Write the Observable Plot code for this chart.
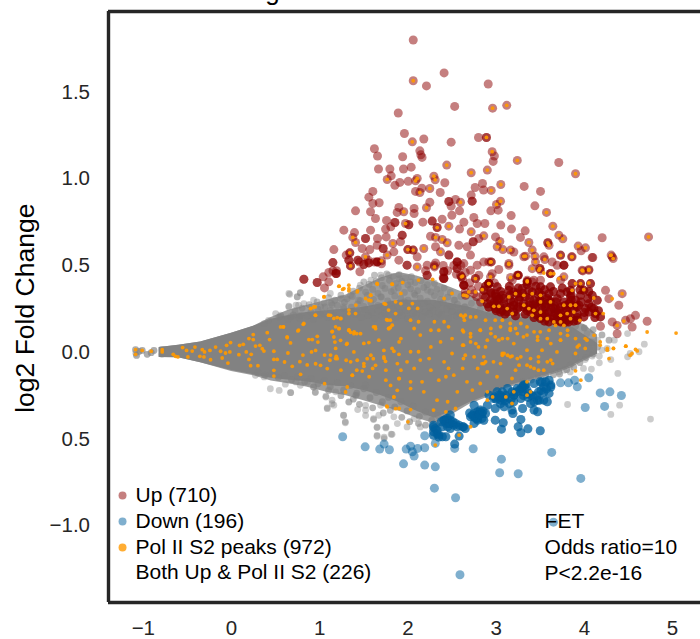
<!DOCTYPE html>
<html><head><meta charset="utf-8">
<style>html,body{margin:0;padding:0;background:#fff;overflow:hidden}</style>
<script src="https://cdn.jsdelivr.net/npm/d3@7"></script>
<script src="https://cdn.jsdelivr.net/npm/@observablehq/plot@0.6"></script>
</head><body><div id="chart"></div>
<script>
const xTicks=[-1,0,1,2,3,4,5];
const xTickLabels=["−1","0","1","2","3","4","5"];
const yTicks=[1.5,1,0.5,0,-0.5,-1];
const yTickLabels=["1.5","1.0","0.5","0.0","0.5","−1.0"];
const legendLabels=["Up (710)","Down (196)","Pol II S2 peaks (972)","Both Up & Pol II S2 (226)"];
const noteLabels=["FET","Odds ratio=10","P<2.2e-16"];
// gray cloud envelope
const cloudX=[-.82,-.6,-.35,0,.25,.45,.63,.85,1.08,1.3,1.5,1.7,1.9,2.1,2.3,2.5,2.7,2.9,3.1,3.3,3.5,3.7,3.85,4.0,4.15];
const outerHi=[.027,.04,.06,.11,.15,.2,.24,.27,.3,.33,.38,.43,.46,.44,.41,.37,.33,.28,.24,.22,.2,.19,.18,.16,.1];
const outerLo=[-.03,-.032,-.06,-.11,-.135,-.165,-.18,-.2,-.23,-.25,-.28,-.31,-.34,-.38,-.41,-.36,-.30,-.26,-.21,-.18,-.15,-.12,-.09,-.05,-.01];
const coreHi=[.027,.04,.06,.11,.15,.19,.21,.23,.24,.25,.26,.28,.3,.3,.3,.28,.26,.23,.2,.2,.2,.18,.15,.1,.05];
const coreLo=[-.03,-.032,-.06,-.105,-.13,-.15,-.16,-.17,-.19,-.2,-.22,-.25,-.29,-.34,-.38,-.34,-.29,-.25,-.2,-.17,-.14,-.11,-.08,-.04,-.01];
const grayPoints=[[-1.088,.015],[-1.077,-.018],[-1.05,.005],[-1.013,.011],[-.956,-.012],[-.911,-.002],[-.88,.011],[-1.088,.015],[-1.077,-.018],[-1.05,.005],[-1.013,.011],[-.956,-.012],[-.911,-.002],[-.88,.011],[-1.085,-.005],[-.79,.015],[-.79,-.012],
[.65,.339],[.78,.343],[.745,.32],[.65,.266],[.73,.272],[.82,.281],[.93,.301],[1.05,.285],[1.12,.339],[1.24,.31],[1.35,.329],[1.46,.387],[1.58,.416],[1.69,.445],[1.78,.445],[1.90,.425],[2.03,.406],[1.01,.262],[1.14,.272],[1.27,.262],[1.44,.301],[1.69,.32],[1.84,.358],[2.07,.339],[2.22,.358],[2.37,.339],[2.52,.301],[2.65,.262],[.78,.214],[.67,.205],[.556,.214],
[.66,.334],[.78,.342],[.745,.319],[.65,.261],[.76,.271],[.50,.223],[.54,.203],[.37,.165],[.42,.184],
[.44,-.21],[.54,-.22],[.67,-.233],[.37,-.142],[.27,-.133],[.93,-.20],[.95,-.229],[1.07,-.258],[1.085,-.325],[1.14,-.296],[1.27,-.364],[1.29,-.406],[1.33,-.287],[1.41,-.248],[1.52,-.306],[1.52,-.364],[1.61,-.383],[1.65,-.431],[1.75,-.431],[1.65,-.479],[1.73,-.489],[1.82,-.473],
[.61,-.184],[.67,-.232],[.73,-.171],[.78,-.19],[.86,-.171],[.93,-.20],[.95,-.232],[1.07,-.253],[1.14,-.276],[1.085,-.32],[1.16,-.305],[1.18,-.228],[1.33,-.286],[1.41,-.248],[1.43,-.33],[1.52,-.334],[1.52,-.19],[1.61,-.388],[1.67,-.363],[1.27,-.363],[1.29,-.401],[1.65,-.434],[1.75,-.436],[1.81,-.472],[1.73,-.497],[1.65,-.484],[1.99,-.43],[2.14,-.43],[1.88,-.411],[1.69,-.305],[1.84,-.372],[2.07,-.382],
[3.81,-.301],[4.40,-.305],[4.30,-.358],[4.75,-.385],[4.38,-.122],[4.30,-.042],[4.49,-.026],[4.62,.003],[4.68,.047],[4.17,-.061],[4.09,-.022],[4.01,-.042],[3.99,-.093],[4.08,-.097],[4.17,-.022],[3.90,-.026],[3.84,-.074],[3.77,-.103],[3.71,-.113],[3.84,-.113],[4.34,.07],[4.49,.108],[4.26,.022],[4.03,.108],[4.15,.07],[3.96,.051],[4.05,.022],[4.20,.012],[4.52,-.007]];
const grayUpper=[[1.62,.445],[1.7,.43],[1.76,.452],[1.83,.438],[1.9,.447],[1.97,.428],[2.04,.436],
[1.5,.405],[1.56,.392],[1.64,.41],[1.71,.385],[1.79,.415],[1.86,.397],[1.93,.408],[2.0,.388],[2.08,.402],[2.15,.413],[2.22,.39],[2.3,.398],
[1.38,.352],[1.45,.37],[1.52,.347],[1.6,.362],[1.66,.34],[1.74,.368],[1.81,.35],[1.89,.372],[1.96,.345],[2.03,.366],[2.11,.355],[2.18,.374],[2.26,.348],[2.33,.363],[2.41,.37],[2.48,.345],
[1.1,.315],[1.17,.3],[1.24,.33],[1.31,.308],[1.37,.322],[1.46,.298],[1.54,.328],[1.61,.305],[1.7,.318],[1.77,.296],[1.85,.325],[1.92,.31],[2.0,.3],[2.08,.33],[2.14,.312],[2.22,.295],[2.3,.327],[2.37,.305],[2.45,.318],[2.53,.3],[2.6,.322],
[.88,.275],[.97,.29],[1.06,.262],[1.13,.282],[1.2,.27],[1.28,.288],[1.36,.26],[1.43,.278],[1.5,.265],[1.58,.285],[1.66,.27],[1.73,.258],[1.8,.28],[1.88,.268],[1.96,.29],[2.03,.262],[2.1,.275],[2.18,.283],[2.25,.26],[2.33,.272],[2.4,.286],[2.48,.265],[2.56,.278],[2.64,.262],[2.72,.282],
[.72,.24],[.8,.255],[.9,.232],[.98,.248],[1.04,.226],[1.12,.242],[1.19,.23],[1.27,.252],[1.35,.235],[1.42,.228],[1.51,.246],[1.59,.232],[1.66,.238],[1.74,.225],[1.83,.25],[1.9,.23],[1.98,.242],[2.06,.226],[2.13,.248],[2.2,.233],[2.28,.24],[2.35,.228],[2.44,.25],[2.5,.235],[2.58,.226],[2.66,.245],[2.74,.23],[2.82,.248],
[.56,.205],[.64,.19],[.7,.215],[.77,.198],[.86,.21],[.93,.192],[1.01,.216],[1.09,.2],[1.16,.212],[1.24,.195],[1.31,.208],[1.4,.218],[1.47,.2],[1.55,.212],[1.62,.196],[1.7,.21],[1.78,.218],[1.86,.2],[1.93,.212],[2.0,.195],[2.09,.215],[2.16,.205],[2.24,.22],[2.31,.2],[2.38,.215],[2.46,.195],[2.55,.21],[2.62,.22],[2.7,.2],[2.78,.215],[2.86,.205],[2.93,.22]];
const grayLower=[[.3,-.118],[.38,-.13],[.46,-.122],[.53,-.145],[.6,-.135],[.68,-.158],[.75,-.142],[.83,-.17],[.9,-.15],[.98,-.182],[1.05,-.165],[1.12,-.198],[1.2,-.175],[1.27,-.218],[1.35,-.192],[1.42,-.235],[1.5,-.21],[1.57,-.262],[1.64,-.232],[1.71,-.285],[1.78,-.26],[1.85,-.315],[1.92,-.285],[1.99,-.338],[2.06,-.31],[2.13,-.37],[2.2,-.345],[2.27,-.392],[2.34,-.365],[1.1,-.22],[1.24,-.25],[1.38,-.27],[1.45,-.3],[1.6,-.32],[1.72,-.35],[1.8,-.335],[1.93,-.375],[2.02,-.4],[2.12,-.41],[2.2,-.42],[2.28,-.44],[2.35,-.405],[2.42,-.39],
[3.3,-.17],[3.4,-.16],[3.48,-.145],[3.56,-.135],[3.65,-.13],[3.72,-.125],[3.8,-.1],[3.88,-.085],[3.95,-.06],[4.02,-.03],[4.1,-.01],[4.15,.03],[4.08,.06],[4.0,.14],[3.9,.15],[3.82,.13],[4.1,.13],[4.2,.1],[4.28,.07]];
const upPoints=[[2.06,1.80],[2.41,1.61],[2.06,1.565],[2.21,1.535],[2.91,1.546],[2.53,1.417],[2.96,1.407],[3.12,1.423],[1.89,1.379],[1.96,1.261],[2.05,1.213],[2.18,1.229],[2.49,1.211],[2.80,1.238],[2.89,1.238],[2.89,1.238],[1.62,1.173],[1.655,1.131],[1.94,1.127],[2.135,1.161],[2.146,1.138],[2.16,1.123],[2.955,1.156],[2.98,1.131],[2.966,1.10],[3.24,1.106],[3.71,1.094],[3.90,1.029],[2.44,1.079],[1.666,1.056],[1.795,1.056],[1.95,1.056],[2.037,1.067],[2.90,1.05],[2.717,1.035],[1.81,1.017],[1.765,.996],[2.105,1.002],[2.086,.988],[2.294,1.015],[2.309,.994],[2.418,.977],[1.908,.979],[1.852,.962],[2.003,.985],[3.053,.967],[2.845,.973],[2.762,.95],[2.857,.935],[2.944,.933],[3.318,.956],[3.503,.927],[2.248,.944],[2.158,.946],[2.086,.927],[2.135,.921],[2.366,.921],[1.602,.927],[1.557,.894],[2.717,.906],[2.539,.881],[2.464,.869],[2.464,.869],[2.596,.865],[2.728,.871],[2.728,.871],[3.05,.871],[3.004,.852],[1.602,.858],[1.674,.862],[2.248,.865],[2.49,.842],[3.439,.844],[1.406,.815],[1.576,.81],[1.897,.835],[1.878,.806],[1.953,.81],[2.07,.829],[2.07,.80],[2.21,.833],[2.585,.815],[2.94,.815],[3.023,.819],[3.571,.806],[3.17,.788],[2.498,.79],[2.388,.767],[1.632,.771],[1.757,.76],[1.852,.748],[1.852,.748],[2.169,.75],[2.275,.756],[2.275,.756],[1.972,.742],[2.01,.735],[2.01,.735],[2.464,.727],[2.634,.75],[2.747,.777],[2.785,.742],[2.872,.742],[3.053,.733],[3.643,.727],[1.273,.704],[1.576,.704],[1.746,.71],[1.806,.723],[2.331,.719],[2.331,.719],[2.585,.71],[3.174,.71],[2.717,.694],[3.329,.70],[3.711,.675],[3.756,.654],[4.202,.66],[4.728,.665],[1.394,.69],[1.375,.662],[1.406,.633],[1.519,.656],[1.519,.656],[1.655,.656],[1.753,.665],[1.935,.675],[1.935,.675],[1.916,.637],[2.256,.669],[2.313,.662],[2.388,.65],[2.445,.631],[2.86,.671],[2.804,.656],[2.993,.665],[3.042,.639],[2.74,.637],[2.74,.637],[3.276,.662],[3.371,.633],[3.586,.631],[3.586,.631],[3.6,.617],[1.16,.592],[1.829,.627],[1.651,.617],[1.568,.592],[1.481,.598],[1.719,.598],[1.719,.598],[1.999,.592],[1.999,.592],[2.06,.589],[2.06,.589],[2.18,.598],[2.313,.608],[2.369,.579],[2.577,.617],[2.672,.608],[3.012,.608],[3.076,.592],[3.163,.589],[3.409,.589],[3.93,.612],[4.013,.602],[3.964,.585],[1.341,.573],[1.341,.573],[1.33,.531],[1.33,.531],[1.149,.517],[1.149,.517],[1.349,.498],[1.349,.498],[1.84,.579],[1.765,.56],[1.519,.55],[1.432,.531],[1.432,.531],[1.5,.506],[1.5,.506],[1.557,.515],[1.557,.515],[1.651,.521],[1.651,.521],[1.651,.521],[1.7,.527],[1.897,.531],[1.99,.502],[1.99,.502],[2.105,.55],[2.105,.492],[2.218,.502],[2.313,.515],[2.301,.492],[2.464,.56],[2.464,.56],[2.558,.521],[2.558,.521],[2.558,.521],[2.558,.483],[2.558,.483],[2.709,.56],[2.785,.502],[2.86,.521],[2.944,.521],[2.944,.521],[3.03,.477],[3.144,.512],[3.333,.554],[3.439,.554],[3.552,.535],[3.496,.483],[3.496,.483],[3.616,.454],[3.616,.454],[3.768,.502],[3.768,.502],[3.73,.56],[3.855,.55],[4.096,.546],[4.304,.56],[4.327,.54],[3.983,.469],[4.051,.477],[1.455,.464],[1.186,.454],[1.186,.454],[1.186,.454],[1.103,.46],[.82,.421],[.82,.421],[.971,.402],[.971,.402],[1.039,.435],[1.103,.406],[1.054,.371],[2.407,.464],[2.407,.464],[2.407,.464],[2.407,.425],[2.407,.425],[2.407,.425],[2.218,.444],[2.218,.444],[2.607,.435],[2.607,.435],[2.634,.387],[2.634,.387],[2.634,.387],[2.766,.425],[2.917,.396],[2.917,.396],[2.917,.396],[2.936,.435],[3.163,.431],[3.25,.444],[3.25,.444],[3.25,.444],[3.352,.406],[3.352,.406],[3.352,.406],[3.768,.435],[3.427,.415],
[2.993,.338],[3.031,.309],[2.936,.348],[3.087,.28],[2.974,.271],[2.879,.319],[2.823,.29],[2.747,.338],[2.653,.328],[2.634,.386],[2.596,.444],[2.634,.511],[2.766,.425],[2.917,.396],[2.955,.453],[2.917,.521],[2.804,.444],[2.709,.473],[3.144,.501],[3.238,.444],[3.182,.415],[3.352,.415],[3.295,.367],[3.201,.348],[3.163,.30],[3.257,.30],[3.409,.348],[3.484,.348],[3.371,.271],[3.446,.252],[3.503,.29],[3.56,.261],[3.616,.29],[3.673,.261],[3.73,.223],[3.805,.242],[3.862,.271],[3.919,.223],[3.654,.194],[3.73,.175],[3.824,.175],[3.919,.184],[3.579,.204],[3.465,.213],[3.39,.232],[3.314,.261],[3.201,.232],[3.125,.232],[3.05,.232],[3.994,.204],[4.051,.232],[4.127,.223],[4.183,.204],[4.108,.252],[4.146,.30],[4.089,.328],[3.957,.328],[3.90,.30],[3.805,.348],[3.73,.338],[3.862,.396],[3.957,.396],[4.07,.396],[3.73,.415],[3.616,.453],[3.503,.473],[3.409,.482],[3.446,.521],[3.314,.55],[3.201,.578],[3.692,.501],[3.768,.501],[3.73,.559],[3.862,.55],[4.089,.546],[4.051,.473],[3.975,.473],[3.541,.55],[3.635,.521],[3.503,.377],[3.409,.405],[4.24,.357],[4.278,.309],[4.429,.338],[4.391,.271],[4.316,.175],[4.372,.155],[4.372,.107],[4.467,.184],[4.523,.194],[4.58,.213],[4.542,.146],[4.712,.179],[4.183,.15],[4.316,.55],
[3.012,.377],[3.068,.328],[2.936,.30],[2.861,.357],[3.144,.357],[3.238,.338],[3.333,.319],[3.427,.30],[3.522,.328],[3.598,.338],[3.692,.309],[3.768,.29],[3.843,.319],[3.938,.271],[4.013,.252],[3.522,.242],[3.598,.232],[3.673,.223],[3.768,.204],[3.843,.204],[3.503,.194],[3.163,.261],[3.257,.261],[3.352,.261],[3.446,.28],[3.579,.28],[3.73,.261],[3.824,.28],[3.919,.261],[4.051,.28],[3.012,.30],[3.068,.242],[2.993,.252],[2.917,.261],[3.654,.252],[3.805,.184],[3.73,.204],[3.598,.175],[3.522,.213],[3.371,.357],[3.843,.357],[3.994,.357],[3.616,.377],[3.503,.415],
[2.95,.34],[3.0,.32],[3.05,.35],[2.98,.29],[3.04,.27],[3.09,.31],[3.12,.26],[3.16,.33],[3.2,.29],[3.24,.25],[3.27,.32],[3.31,.28],[3.35,.24],[3.38,.31],[3.42,.27],[3.45,.23],[3.48,.33],[3.52,.27],[3.55,.22],[3.58,.31],[3.62,.25],[3.65,.21],[3.68,.29],[3.71,.24],[3.75,.19],[3.78,.27],[3.82,.22],[3.85,.3],[3.88,.25],[3.92,.2],[3.96,.29],[4.0,.23],[4.04,.31],[4.08,.26],[4.12,.2],[4.16,.24],[3.15,.38],[3.25,.37],[3.35,.39],[3.45,.38],[3.55,.36],[3.65,.35],[3.75,.37],[3.85,.33],[3.95,.36],[4.05,.35],[3.1,.22],[3.22,.21],[3.33,.22],[3.43,.2],[3.55,.18],[3.68,.18],[3.78,.17],[3.88,.18],[3.0,.24],[2.9,.28],[2.85,.33],[2.78,.32],[2.72,.36],[2.65,.35],[2.7,.4],[2.62,.42],[2.8,.38],[2.88,.38],[2.98,.4],[3.3,.34],[3.6,.3],[3.5,.3],[3.7,.22],[3.8,.25],[3.4,.25],[3.2,.27],
[2.4,.5],[2.45,.47],[2.52,.5],[2.55,.45],[2.6,.5],[2.65,.46],[2.4,.43],[2.2,.47],[2.3,.5],[1.55,.53],[1.62,.52],[1.7,.51],[1.45,.52],[1.3,.56],[1.19,.47],[1.15,.47]];
const downPoints=[[1.26,-.487],[1.515,-.545],[1.68,-.558],[1.73,-.529],[1.79,-.562],[1.98,-.558],[2.03,-.541],[2.05,-.573],[2.07,-.598],[2.11,-.554],[2.19,-.55],[1.95,-.643],[2.19,-.65],[2.31,-.66],[2.30,-.783],[2.54,-.838],[3.06,-.616],[3.04,-.694],[3.25,-.70],[3.63,-.577],[3.96,-.727],[3.65,-.979],[2.59,-1.282],[2.74,-.556],[2.19,-.481],[3.50,-.452],[3.36,-.441],[3.28,-.464],[3.25,-.429],[3.06,-.443],[3.08,-.406],[2.99,-.391],[3.28,-.387],[3.19,-.353],[3.47,-.343],[4.01,-.318],[4.23,-.312],[4.18,-.234],[4.29,-.228],[4.42,-.249],[4.05,-.147],[3.92,-.199],[3.89,-.161],[3.82,-.176],[3.73,-.176],[2.53,-.529],[2.53,-.529],[2.53,-.554],[2.31,-.525],[2.39,-.487],
[2.29,-.42],[2.29,-.458],[2.35,-.477],[2.43,-.487],[2.41,-.391],[2.48,-.391],[2.54,-.41],[2.48,-.439],[2.62,-.429],[2.58,-.483],[2.71,-.372],[2.77,-.362],[2.82,-.333],[2.79,-.391],[2.84,-.381],[2.75,-.41],[2.90,-.305],[2.75,-.305],[2.92,-.247],[3.01,-.228],[3.05,-.276],[3.11,-.247],[3.09,-.314],[2.99,-.324],[3.18,-.228],[3.24,-.209],[3.31,-.189],[3.35,-.218],[3.28,-.266],[3.20,-.285],[3.18,-.333],[3.30,-.324],[3.39,-.295],[3.47,-.276],[3.43,-.333],[3.54,-.276],[3.60,-.237],[3.62,-.189],[3.50,-.17],[3.54,-.199],[3.43,-.18],[3.48,-.228],[3.39,-.247],[2.48,-.362],[2.65,-.439],[2.79,-.343],[2.88,-.353],[2.97,-.266],[3.13,-.209],[3.30,-.228],[3.58,-.285],
[2.43,-.391],[2.46,-.41],[2.52,-.42],[2.39,-.429],[2.33,-.449],[2.80,-.362],[2.84,-.353],[2.75,-.372],[3.05,-.247],[3.09,-.266],[3.30,-.199],[3.33,-.189],[3.20,-.247],[3.07,-.228],[2.43,-.41],[2.445,-.381],[2.75,-.353],
[2.29,-.43],[2.29,-.478],[2.35,-.488],[2.41,-.392],[2.48,-.411],[2.58,-.421],[2.63,-.43],[2.73,-.363],[2.79,-.382],[2.82,-.344],[2.86,-.392],[2.98,-.257],[3.03,-.248],[3.11,-.257],[3.15,-.296],[3.05,-.296],[3.2,-.248],[3.28,-.209],[3.33,-.19],[3.37,-.238],[3.43,-.286],[3.49,-.277],[3.54,-.229],[3.62,-.2],[3.6,-.161],[3.52,-.171],
[2.31,-.44],[2.33,-.47],[2.38,-.4],[2.45,-.43],[2.51,-.4],[2.56,-.43],[2.7,-.35],[2.77,-.38],[2.81,-.36],[2.85,-.34],[3.0,-.27],[3.06,-.26],[3.1,-.28],[3.17,-.27],[3.22,-.23],[3.26,-.22],[3.31,-.25],[3.36,-.26],[3.41,-.25],[3.46,-.25],[3.51,-.22],[3.57,-.21],[3.56,-.17]];
const peakPoints=[[2.06,1.565],[2.96,1.407],[3.12,1.423],[2.05,1.213],[2.89,1.238],[2.955,1.156],[3.24,1.106],[3.90,1.029],[2.44,1.079],[2.90,1.05],[2.717,1.035],[1.765,.996],[2.105,1.002],[2.086,.988],[2.294,1.015],[2.309,.994],[3.053,.967],[2.944,.933],[2.248,.944],[2.135,.921],[2.596,.865],[3.05,.871],[3.004,.852],[1.953,.81],[2.21,.833],[3.571,.806],[1.972,.742],[2.464,.727],[3.643,.727],[2.331,.719],[2.717,.694],[3.711,.675],[3.756,.654],[4.728,.665],[1.375,.662],[1.406,.633],[2.313,.662],[2.388,.65],[2.445,.631],[2.86,.671],[3.042,.639],[3.371,.633],[3.586,.631],[3.6,.617],[1.829,.627],[1.999,.592],[2.06,.589],[2.18,.598],[2.369,.579],[3.012,.608],[3.076,.592],[3.163,.589],[3.409,.589],[3.93,.612],[4.013,.602],[1.341,.573],[1.349,.498],[1.765,.56],[1.519,.55],[1.7,.527],[2.105,.492],[2.301,.492],[2.944,.521],[3.144,.512],[3.333,.554],[3.439,.554],[3.552,.535],[3.496,.483],[3.616,.454],[3.855,.55],[4.304,.56],[4.327,.54],[3.983,.469],[4.051,.477],[2.607,.435],[2.766,.425],[2.917,.396],[2.936,.435],[3.163,.431],[3.25,.444],[3.352,.406],[3.768,.435],
[2.842,.294],[2.653,.328],[2.766,.348],[2.842,.361],[2.69,.348],[2.917,.396],[2.936,.521],[3.144,.507],[3.246,.444],[3.352,.411],[3.484,.473],[3.409,.482],[3.314,.553],[3.446,.521],[3.616,.453],[3.541,.457],[3.654,.453],[3.711,.425],[3.90,.396],[3.957,.396],[4.051,.40],[3.994,.361],[3.862,.357],[4.108,.313],[4.429,.338],[4.316,.309],[4.297,.559],[3.975,.473],[4.051,.473],[3.73,.559],[3.862,.55],[3.144,.319],[3.22,.338],[3.314,.328],[3.409,.338],[3.503,.328],[3.616,.29],[3.768,.271],[3.843,.271],[3.371,.252],[3.427,.242],[3.503,.232],[3.409,.213],[3.503,.194],[2.974,.265],[3.031,.265],[3.125,.252],[3.182,.223],[3.314,.271],[3.73,.213],[3.805,.223],[3.881,.232],[3.654,.175],[3.73,.175],[3.843,.194],[3.949,.184],[3.768,.155],[3.673,.155],[3.579,.194],[4.127,.223],[4.214,.223],[4.372,.155],[4.448,.18],[4.712,.117],[3.90,.271],[3.503,.29],
[-1.088,.015],[-1.088,-.012],[-1.013,.011],[-.911,.006],[-.786,.015],[-.786,.002],[-.661,-.012],[-.635,-.023],[-.608,-.027],[-.555,.027],[-.51,.011],[-.495,-.027],[-.446,.007],[-.415,.03],[-.359,-.023],[-.332,.015],[-.306,.002],[-.313,-.027],[-.238,-.043],[-.245,.011],[-.181,.03],[-.124,.006],[-.106,-.033],[-.068,-.004],[-.056,.04],[-.019,.002],[-.011,.056],[-.041,-.062],[.083,-.014],[.091,.04],[.133,.046],[.167,.002],[.197,.079],[.246,.102],[.246,.073],[.223,-.012],[.197,-.041],[.216,-.077],[.299,-.077],[.272,.036],[.321,.04],[.348,.021],[.367,.007],[.431,.073],[.405,.113],[.48,.006],[.48,-.041],[.518,-.041],[.48,-.104],[.48,-.137],[.556,.146],[.586,.146],[.601,-.056],[.631,.084],[.639,-.004],[.669,.054],[.688,-.081],[.752,.123],[.775,-.054],[.783,-.127],[.809,-.016],[.813,.161],[.858,-.073],[.877,.073],[.915,.073],[.907,.002],[.953,.011],[.972,.092],[.979,.059],[.953,-.066],[1.009,-.075],[1.085,-.094],[1.055,-.016],[1.055,-.181],[1.115,-.046],[1.123,-.016],[1.142,.121],[1.16,.088],[1.172,.059],[1.187,-.023],[1.198,-.037],[1.217,.136],[1.236,.069],[1.236,.194],[1.304,.046],[1.293,-.229],[1.312,-.2],[1.30,-.046],[1.331,.127],[1.35,.115],[1.387,.107],[1.368,-.133],[1.387,.002],[1.425,-.046],[1.463,.107],[1.501,-.081],[1.482,-.108],[1.557,.056],[1.538,-.037],[1.607,-.037],[1.633,-.075],[1.727,-.027],[1.727,.011],[1.746,-.052],[1.841,.006],[1.765,-.315],[1.841,-.258],[1.86,-.325],[1.879,-.219],[1.803,-.191],[1.898,-.152],[1.898,-.012],[1.633,.136],[1.784,.136],[1.758,.188],[1.822,.156],[1.86,.223],[1.406,.223],[1.331,.223],[1.331,.367],[1.425,.348],[1.576,.329],[1.557,.30],[1.746,.277],[1.822,.392],[1.652,.392],[1.217,.38],[1.274,.367],[1.123,.213],[1.198,.2],[.953,.213],[.896,.252],[1.047,.319],[.934,.261],
[1.18,.147],[1.33,.127],[1.42,.108],[1.61,.147],[1.80,.143],[1.92,.079],[2.07,.137],[2.14,.099],[2.26,.127],[2.35,.127],[2.46,.147],[2.62,.127],[2.71,.089],[2.82,.127],[2.94,.137],[3.05,.147],[3.16,.137],[1.31,.051],[1.18,.022],[1.50,.051],[1.67,.07],[1.82,.022],[1.90,.06],[2.03,.003],[2.12,.003],[2.26,.031],[2.37,.06],[2.50,.079],[2.62,.041],[2.71,.06],[2.80,.031],[2.90,.07],[2.99,.089],[3.13,.079],[3.24,.108],[3.35,.099],[3.47,.089],[3.58,.079],[3.73,.07],[3.81,.127],[3.94,.041],[4.03,.07],[4.18,.041],[4.26,.012],[4.33,.022],[4.47,.035],[4.54,-.007],[4.6,.008],[1.18,-.036],[1.35,-.055],[1.50,-.065],[1.58,-.017],[1.73,-.036],[1.88,-.065],[1.99,-.055],[2.14,-.045],[2.24,-.036],[2.41,-.055],[2.50,-.007],[2.63,-.036],[2.75,-.026],[2.86,-.065],[2.97,-.055],[3.07,-.017],[3.16,-.026],[3.26,-.074],[3.39,-.036],[3.48,-.055],[3.62,-.045],[1.24,-.103],[1.42,-.103],[1.60,-.093],[1.75,-.103],[1.92,-.103],[2.07,-.093],[2.26,-.103],[2.46,-.093],[2.62,-.093],[2.79,-.093],[2.90,-.113],[3.05,-.065],[3.22,-.103],[3.39,-.084],[3.54,-.103],[3.64,-.065],[1.37,-.132],[1.56,-.141],[1.75,-.161],[1.90,-.151],[2.03,-.17],[2.16,-.17],[2.35,-.161],[2.43,-.141],[2.52,-.132],[2.67,-.17],[2.82,-.18],[3.01,-.141],[3.18,-.151],[3.35,-.17],[3.48,-.103],[3.90,-.107],[3.96,-.161],[1.84,-.257],[2.03,-.209],[2.18,-.228],[2.33,-.276],[2.45,-.285],[2.56,-.228],[2.73,-.218],[2.90,-.228],[2.96,-.257],[3.11,-.257],[3.20,-.228],[3.39,-.228],[3.35,-.247],[3.18,-.295],[2.90,-.276],[1.76,-.31],[1.90,-.324],[2.03,-.33],[2.29,-.333],[2.54,-.324],[2.43,-.343],[2.0,-.401],[2.71,-.429],[2.58,-.477],[2.31,-.535],
[3.07,-.007],[3.13,-.017],[3.18,-.022],[3.24,-.036],[2.84,-.065],[2.88,-.055],[3.35,-.074],[3.43,-.093],[3.58,-.055],
[2.63,.204],[2.71,.204],[2.77,.204],[2.88,.185],[2.99,.185],[3.07,.185],[3.16,.166],[3.22,.137],[3.28,.166],[3.35,.146],[3.43,.118],[3.50,.118],[3.60,.127],[3.73,.108],[3.81,.098],[3.90,.079],[4.01,.079],[4.11,.098],[2.63,.118],[2.71,.108],[2.82,.127],[2.94,.108],[3.07,.079],[3.16,.127],[3.31,.089],[3.47,.07],[3.62,.05],[3.73,.07],[3.92,.031],[4.18,.06],[4.26,.022],[4.33,.022],[4.47,.035],[4.58,.016],[2.63,.041],[2.77,.05],[2.88,.031],[3.03,.07],[3.2,.05],[3.35,.012],[3.52,.012],[3.69,.002],[3.90,-.007],[4.01,.022],[2.65,-.017],[2.86,-.026],[3.09,-.007],[3.28,-.026],[3.48,-.026],[4.52,-.017],[4.28,-.036],[5.04,.111],
[1.05,.32],[1.22,.381],[1.26,.362],[1.33,.387],[1.33,.354],[1.43,.354],[1.65,.397],[1.82,.393],[1.94,.402],[2.12,.416],[2.28,.42],[2.41,.31],[2.5,.339],[2.62,.439],[2.63,.329],[2.67,.324],[.90,.253],[.95,.262],[.95,.214],[1.10,.214],[1.16,.195],[1.24,.195],[1.33,.243],[1.41,.272],[1.52,.31],[1.58,.329],[1.58,.297],[1.73,.281],[1.86,.291],[1.92,.339],[1.92,.281],[2.05,.281],[2.11,.253],[2.01,.253],[1.78,.243],[.82,.166],[.76,.128],[.59,.147],[.63,.089],[1.14,.118],[1.22,.137],[1.33,.128],[1.39,.118],[1.63,.147],[1.80,.185],[1.78,.137],[1.77,.185],[2.03,.185],[2.12,.176],[2.30,.176],[2.41,.176],[2.6,.214],[2.64,.185],[2.65,.214]];

const px=d=>d[0], py=d=>d[1];
const cloud=cloudX.map((x,i)=>({x,outerHi:outerHi[i],outerLo:outerLo[i],coreHi:coreHi[i],coreLo:coreLo[i]}));
const legendY=[-.825,-.975,-1.125,-1.269];
const legendColors=["#8b0000","#005f9e","#ff9900"];
const legendOpacity=[.5,.5,.8];
const noteY=[-.975,-1.125,-1.275];
const xMin=-1.395,xMax=5.317,yMin=-1.442,yMax=1.964;
const ink="#262626";
// the densest stretches of the two groups, where the dots pile up to a solid colour
const upBand=upPoints.filter(d=>d[0]>2.85&&d[0]<4.2&&d[1]>.17&&d[1]<.4);
const downBand=downPoints.filter(d=>d[0]>2.25&&d[0]<3.65&&d[1]<-.16&&d[1]>-.5);

const chart=Plot.plot({
  width:700,height:639,marginLeft:108,marginRight:0,marginTop:11,marginBottom:37,
  style:{fontFamily:"'Liberation Sans',Arial,sans-serif",background:"#fff",overflow:"hidden"},
  x:{domain:[xMin,xMax]},y:{domain:[yMin,yMax]},
  marks:[
    Plot.areaY(cloud,{x:"x",y1:"outerLo",y2:"outerHi",fill:"#9c9c9c"}),
    Plot.areaY(cloud,{x:"x",y1:"coreLo",y2:"coreHi",fill:"#828282"}),
    Plot.dot(grayUpper,{x:px,y:py,r:3.4,fill:"#808080",fillOpacity:.5}),
    Plot.dot(grayLower,{x:px,y:py,r:3.4,fill:"#808080",fillOpacity:.6}),
    Plot.dot(grayPoints,{x:px,y:py,r:3.4,fill:"#808080",fillOpacity:.4}),
    Plot.dot(upPoints,{x:px,y:py,r:4.5,fill:"#8b0000",fillOpacity:.5}),
    Plot.dot(upBand,{x:px,y:py,r:4.5,fill:"#8b0000",fillOpacity:.6}),
    Plot.dot(downPoints,{x:px,y:py,r:4.5,fill:"#005f9e",fillOpacity:.5}),
    Plot.dot(downBand,{x:px,y:py,r:4.5,fill:"#005f9e",fillOpacity:.5}),
    Plot.dot(peakPoints,{x:px,y:py,r:1.9,fill:"#ff9900",fillOpacity:.92}),
    Plot.ruleX([xMin],{stroke:ink,strokeWidth:3.4}),
    Plot.ruleY([yMin,yMax],{stroke:ink,strokeWidth:3.4}),
    Plot.axisX({ticks:xTicks,tickSize:0,tickPadding:18,fontSize:20.5,label:null,color:ink,tickFormat:d=>xTickLabels[xTicks.indexOf(d)]}),
    Plot.axisY({ticks:yTicks,tickSize:0,tickPadding:18.5,fontSize:20.5,label:null,color:ink,tickFormat:d=>yTickLabels[yTicks.indexOf(d)]}),
    Plot.text(["log2 Fold Change"],{x:-2.336,y:.254,rotate:-90,fontSize:26.5,fill:"#000",clip:false}),
    Plot.text(["g"],{x:.465,y:2.08,fontSize:26,fill:"#000",clip:false}),
    Plot.dot(legendColors,{x:-1.236,y:(d,i)=>legendY[i],r:4,fill:d=>d,fillOpacity:(d,i)=>legendOpacity[i]}),
    Plot.text(legendLabels,{x:-1.088,y:(d,i)=>legendY[i],textAnchor:"start",fontSize:21,fill:"#000"}),
    Plot.text(noteLabels,{x:3.549,y:(d,i)=>noteY[i],textAnchor:"start",fontSize:21,fill:"#000"})
  ]
});
document.getElementById("chart").appendChild(chart);
</script></body></html>
